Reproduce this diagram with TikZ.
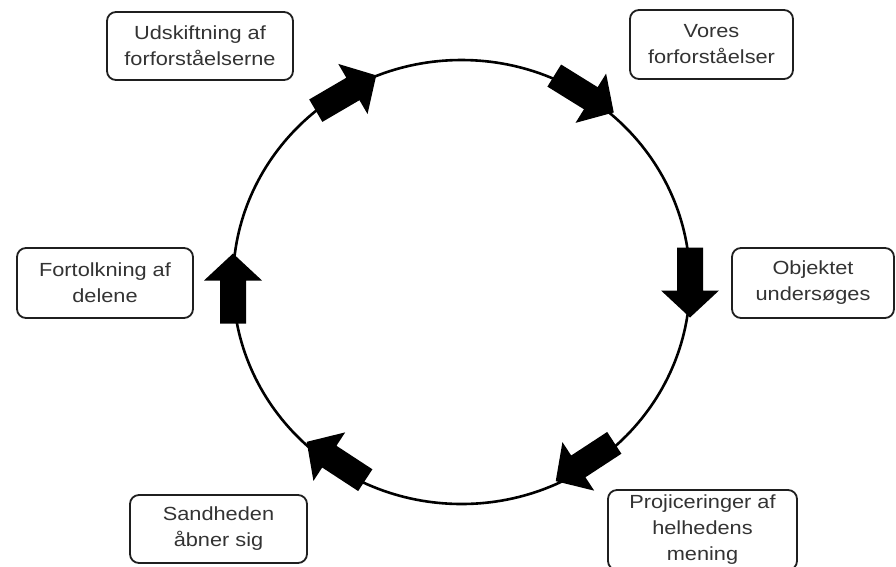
\documentclass[tikz,border=0pt]{standalone}
\usepackage{fontspec}
\newfontfamily\lblfont{Liberation Sans}[FakeStretch=1.145]
\usetikzlibrary{shapes.geometric}
\tikzset{
  lbl/.style={draw=black!88, line width=1.8pt, rounded corners=9pt, align=center,
    inner sep=0pt, text=black!80, font={\lblfont\fontsize{19pt}{26pt}\selectfont}},
  ringstyle/.style={ellipse, draw=black, line width=2.6pt, inner sep=0pt},
  blockarrow/.pic={\fill[black] (-35,-13) -- (8,-13) -- (8,-29) -- (35,0) -- (8,29) -- (8,13) -- (-35,13) -- cycle;}
}
\begin{document}
\begin{tikzpicture}[x=1pt,y=1pt]
\useasboundingbox (0,0) rectangle (896,-566);
\clip (0,0) rectangle (896,-566);
\fill[white] (0,0) rectangle (896,-566);
% circle
\node[ringstyle, minimum width=457pt, minimum height=444pt] (ring) at (461.5,-282) {};
% arrows
\pic[rotate=30.3] (a1) at (346,-93) {blockarrow};
\pic[rotate=-31.8] (a2) at (584,-94) {blockarrow};
\pic[rotate=-90] (a3) at (690,-282.5) {blockarrow};
\pic[rotate=-146.8] (a4) at (585,-462) {blockarrow};
\pic[rotate=146.8] (a5) at (336,-461) {blockarrow};
\pic[rotate=90] (a6) at (233,-288.5) {blockarrow};
% boxes
\node[lbl, minimum width=186pt, minimum height=68pt] (b1) at (200,-46) {Udskiftning af\\forforståelserne};
\node[lbl, minimum width=163pt, minimum height=69pt] (b2) at (711.5,-44.5) {Vores\\forforståelser};
\node[lbl, minimum width=162pt, minimum height=70pt] (b3) at (813,-283) {Objektet\\undersøges};
\node[lbl, minimum width=176pt, minimum height=70pt] (b4) at (105,-283) {Fortolkning af\\delene};
\node[lbl, minimum width=189pt, minimum height=80pt] (b5) at (702.5,-530) {Projiceringer af\\helhedens\\mening};
\node[lbl, minimum width=177pt, minimum height=68pt] (b6) at (218.5,-529) {Sandheden\\åbner sig};
\end{tikzpicture}
\end{document}
